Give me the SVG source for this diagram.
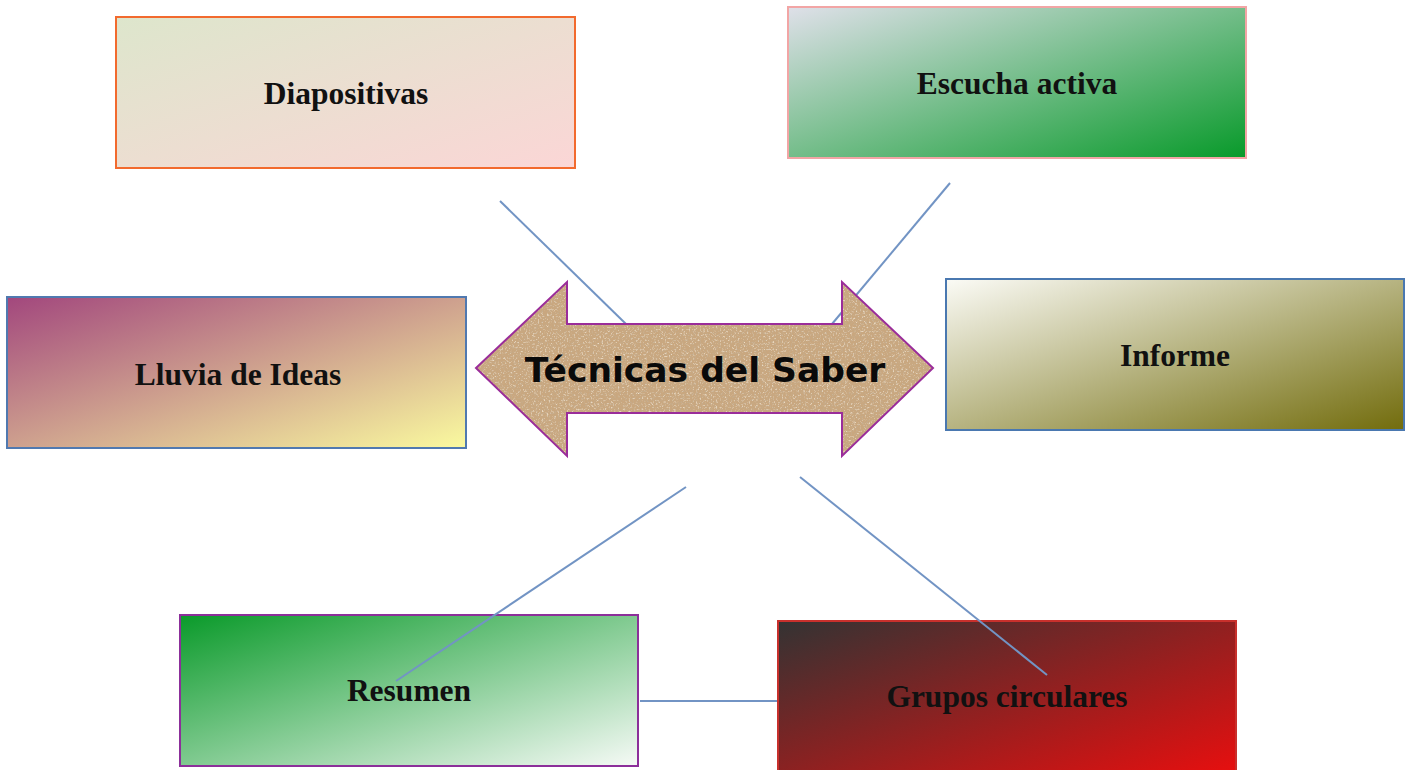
<svg xmlns="http://www.w3.org/2000/svg" width="1407" height="770" viewBox="0 0 1407 770">
<style>
.box{stroke-width:2}
.lbl{font-family:"Liberation Serif","Times New Roman",serif;font-weight:bold;font-size:31.5px;fill:#111;text-anchor:middle}
.conn{stroke:#7294c4;stroke-width:2;fill:none}
.title{font-family:"DejaVu Sans",Verdana,sans-serif;font-weight:bold;font-size:34.5px;fill:#0a0a0a;text-anchor:middle}
</style>
<defs>
<linearGradient id="gDia" x1="0" y1="0" x2="1" y2="1"><stop offset="0" stop-color="#dde6cc"/><stop offset="1" stop-color="#fbd6d6"/></linearGradient>
<linearGradient id="gEsc" x1="0" y1="0" x2="1" y2="1"><stop offset="0" stop-color="#dfe0e9"/><stop offset="1" stop-color="#089a2a"/></linearGradient>
<linearGradient id="gLlu" x1="0" y1="0" x2="1" y2="1"><stop offset="0" stop-color="#a2477d"/><stop offset="1" stop-color="#fafa9f"/></linearGradient>
<linearGradient id="gInf" x1="0" y1="0" x2="1" y2="1"><stop offset="0" stop-color="#fbfbf6"/><stop offset="1" stop-color="#726c0c"/></linearGradient>
<linearGradient id="gRes" x1="0" y1="0" x2="1" y2="1"><stop offset="0" stop-color="#0a9a2a"/><stop offset="1" stop-color="#f6faf6"/></linearGradient>
<linearGradient id="gGru" x1="0" y1="0" x2="1" y2="1"><stop offset="0" stop-color="#333333"/><stop offset="1" stop-color="#ec0e0e"/></linearGradient>
<filter id="sand" x="0" y="0" width="100%" height="100%">
<feTurbulence type="fractalNoise" baseFrequency="0.55" numOctaves="3" seed="4" result="n"/>
<feColorMatrix in="n" type="matrix" values="0 0 0 0 0.55  0 0 0 0 0.42  0 0 0 0 0.28  2.6 0 0 0 -1.25" result="dark"/>
<feColorMatrix in="n" type="matrix" values="0 0 0 0 0.9  0 0 0 0 0.8  0 0 0 0 0.65  0 -2.6 0 0 1.15" result="light"/>
<feComposite in="dark" in2="SourceGraphic" operator="in" result="d"/>
<feComposite in="light" in2="SourceGraphic" operator="in" result="l"/>
<feMerge><feMergeNode in="SourceGraphic"/><feMergeNode in="d"/><feMergeNode in="l"/></feMerge>
</filter>
</defs>

<g id="node-diapositivas">
<rect class="box" x="116" y="17" width="459" height="151" fill="url(#gDia)" stroke="#f26a2e"/>
<text class="lbl" x="346" y="104">Diapositivas</text>
</g>
<g id="node-escucha">
<rect class="box" x="788" y="7" width="458" height="151" fill="url(#gEsc)" stroke="#f2a5a5"/>
<text class="lbl" x="1017" y="94">Escucha activa</text>
</g>
<g id="node-lluvia">
<rect class="box" x="7" y="297" width="459" height="151" fill="url(#gLlu)" stroke="#5079b0"/>
<text class="lbl" x="238" y="385">Lluvia de Ideas</text>
</g>
<g id="node-informe">
<rect class="box" x="946" y="279" width="458" height="151" fill="url(#gInf)" stroke="#4a78b0"/>
<text class="lbl" x="1175" y="366">Informe</text>
</g>
<g id="node-resumen">
<rect class="box" x="180" y="615" width="458" height="151" fill="url(#gRes)" stroke="#8c2f9a"/>
<text class="lbl" x="409" y="701">Resumen</text>
</g>
<g id="node-grupos">
<rect class="box" x="778" y="621" width="458" height="160" fill="url(#gGru)" stroke="#c8302c"/>
<text class="lbl" x="1007" y="707">Grupos circulares</text>
</g>

<g id="connectors">
<line class="conn" x1="500" y1="201" x2="626" y2="324"/>
<line class="conn" x1="950" y1="183" x2="832" y2="324"/>
<line class="conn" x1="686" y1="487" x2="396" y2="681"/>
<line class="conn" x1="800" y1="477" x2="1047" y2="675"/>
<line class="conn" x1="640" y1="701" x2="777" y2="701"/>
</g>

<g id="node-tecnicas">
<path d="M476,368 L567,282 L567,324 L842,324 L842,282 L933,368 L842,456 L842,413 L567,413 L567,456 Z" fill="#c9a77f" filter="url(#sand)"/>
<path d="M476,368 L567,282 L567,324 L842,324 L842,282 L933,368 L842,456 L842,413 L567,413 L567,456 Z" fill="none" stroke="#9a2d9a" stroke-width="2" stroke-linejoin="miter"/>
<text class="title" x="705" y="382">Técnicas del Saber</text>
</g>
</svg>
